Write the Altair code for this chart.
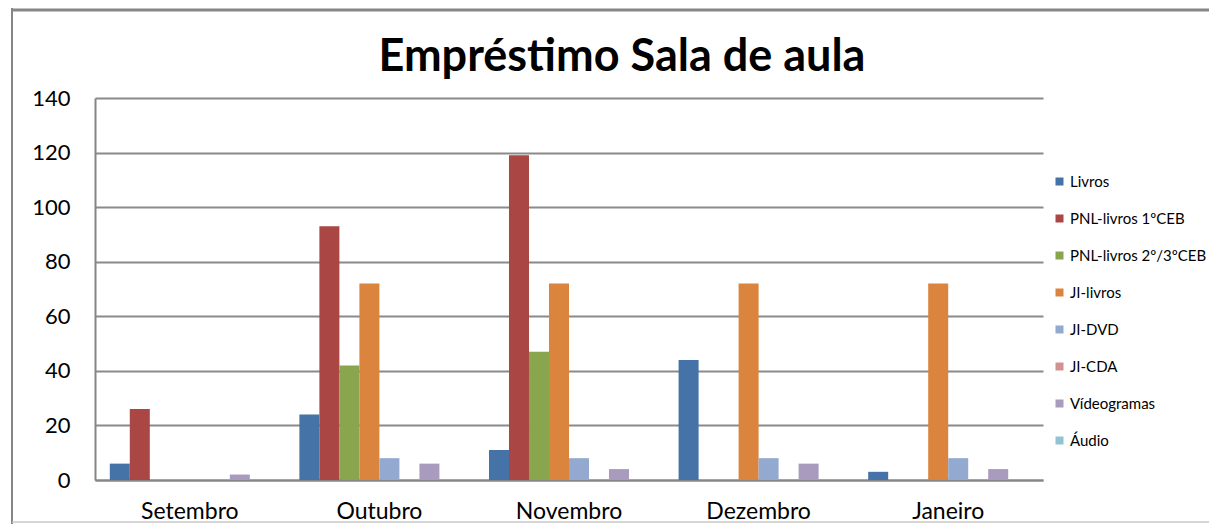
import altair as alt
import pandas as pd

months = ["Setembro", "Outubro", "Novembro", "Dezembro", "Janeiro"]
series = ["Livros", "PNL-livros 1ºCEB", "PNL-livros 2º/3ºCEB", "JI-livros",
          "JI-DVD", "JI-CDA", "Vídeogramas", "Áudio"]
colors = ["#4572A7", "#AA4643", "#89A54E", "#DB843D",
          "#93A9CF", "#D19392", "#A99BBD", "#92C3D5"]

livros = [6, 24, 11, 44, 3]
pnl_1ceb = [26, 93, 119, 0, 0]
pnl_23ceb = [0, 42, 47, 0, 0]
ji_livros = [0, 72, 72, 72, 72]
ji_dvd = [0, 8, 8, 8, 8]
ji_cda = [0, 0, 0, 0, 0]
videogramas = [2, 6, 4, 6, 4]
audio = [0, 0, 0, 0, 0]

y_ticks = [0, 20, 40, 60, 80, 100, 120, 140]
title_text = "Empréstimo Sala de aula"

all_values = [livros, pnl_1ceb, pnl_23ceb, ji_livros, ji_dvd, ji_cda, videogramas, audio]
rows = []
for s, vals in zip(series, all_values):
    for m, v in zip(months, vals):
        rows.append({"Mes": m, "Serie": s, "Valor": v})
df = pd.DataFrame(rows)

FONT = "Lato"

bars = alt.Chart(df).mark_bar().encode(
    x=alt.X("Mes:N", sort=months,
            scale=alt.Scale(paddingInner=0.156, paddingOuter=0.078),
            axis=alt.Axis(title=None, labelAngle=0, grid=False, ticks=False,
                          labelBaseline="alphabetic", labelPadding=38,
                          labelFontSize=23)),
    xOffset=alt.XOffset("Serie:N", sort=series,
                        scale=alt.Scale(paddingInner=0, paddingOuter=0)),
    y=alt.Y("Valor:Q", scale=alt.Scale(domain=[0, 140], nice=False),
            axis=alt.Axis(title=None, values=y_ticks, grid=True, ticks=False,
                          labelPadding=25, labelFontSize=22)),
    color=alt.Color("Serie:N", sort=series,
                    scale=alt.Scale(domain=series, range=colors),
                    legend=alt.Legend(title=None, orient="none", legendX=957, legendY=76,
                                      symbolType="square", symbolSize=64,
                                      symbolStrokeWidth=0, labelFontSize=15,
                                      labelFont=FONT, rowPadding=21, labelOffset=3)),
)

frame_df = pd.DataFrame({"k": [0]})
frame_top = alt.Chart(frame_df).mark_rule(color="#868686", strokeWidth=3).encode(
    x=alt.value(-83), x2=alt.value(1114), y=alt.value(-88))
frame_left = alt.Chart(frame_df).mark_rule(color="#868686", strokeWidth=2).encode(
    x=alt.value(-83), y=alt.value(-90), y2=alt.value(426))
frame_bottom = alt.Chart(frame_df).mark_rule(color="#c8c8c8", strokeWidth=1.5).encode(
    x=alt.value(-83), x2=alt.value(1114), y=alt.value(424))

title_df = pd.DataFrame({"t": [title_text]})
title = alt.Chart(title_df).mark_text(font=FONT, fontWeight="bold", fontSize=45,
                                      align="center", baseline="alphabetic",
                                      color="#000000").encode(
    x=alt.value(527), y=alt.value(-27), text="t:N")

chart = alt.layer(frame_top, frame_left, frame_bottom, bars, title).properties(
    width=948, height=382,
    autosize=alt.AutoSizeParams(type="none"),
    padding={"left": 87, "top": 90, "right": 166, "bottom": 44},
).configure_view(stroke=None).configure_axis(
    domainColor="#868686", domainWidth=2, gridColor="#8a8a8a", gridWidth=2,
    labelFont=FONT, labelColor="#000000",
)

chart.save("out.html", embed_options={"renderer": "svg", "actions": False})
